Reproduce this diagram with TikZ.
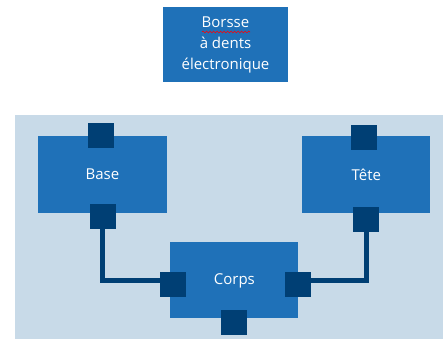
\documentclass[tikz,border=0pt]{standalone}
\usepackage{fontspec}
\setmainfont{Open Sans}
\usepackage{tikz}
\usetikzlibrary{positioning,decorations.pathmorphing}
\definecolor{partBlue}{HTML}{1F71B8}
\definecolor{portNavy}{HTML}{003F74}
\definecolor{panelGray}{HTML}{C8DAE8}
\tikzset{
  part/.style={fill=partBlue, text=white, inner sep=0pt, align=center, font=\fontsize{15}{21}\selectfont},
  port/.style={fill=portNavy, minimum width=26pt, minimum height=25pt, inner sep=0pt},
  link/.style={draw=portNavy, line width=4.5pt},
  panelBox/.style={fill=panelGray, inner sep=0pt}
}

\begin{document}
\begin{tikzpicture}[x=1pt, y=1pt]
  \useasboundingbox (0,0) rectangle (443,-339);
  \node[part, minimum width=125pt, minimum height=75pt] (title) at (225.5,-44.5) {Borsse\\à dents\\électronique};
  \draw[red, line width=0.6pt, decorate, decoration={snake, amplitude=0.9pt, segment length=3.5pt}]
    ([shift={(-23.5,12.5)}]title.center) -- ([shift={(24.5,12.5)}]title.center);
  \node[panelBox, minimum width=428pt, minimum height=224pt] (panel) at (229,-227) {};

  \node[part, minimum width=129pt, minimum height=77pt] (base) at (102.5,-174.5) {Base};
  \node[part, right=135pt of base, minimum width=128pt, minimum height=77pt] (tete) {Tête};
  \node[part, below right=29pt and 3pt of base, minimum width=128pt, minimum height=76pt] (corps) {Corps};

  \node[port] (baseTop) at ([xshift=-1.5pt]base.north) {};
  \node[port] (baseBot) at ([yshift=-3.5pt]base.south) {};
  \node[port] (teteTop) at ([xshift=-2pt, yshift=-2pt]tete.north) {};
  \node[port] (teteBot) at ([yshift=-6.5pt]tete.south) {};
  \node[port] (corpsLeft) at ([xshift=2.5pt, yshift=-4.5pt]corps.west) {};
  \node[port] (corpsRight) at ([xshift=-1pt, yshift=-4.5pt]corps.east) {};
  \node[port] (corpsBot) at ([yshift=-4pt]corps.south) {};

  \draw[link] (baseBot.south) |- ([yshift=4.5pt]corpsLeft.west);
  \draw[link] (teteBot.south) |- ([yshift=4.5pt]corpsRight.east);
\end{tikzpicture}
\end{document}
